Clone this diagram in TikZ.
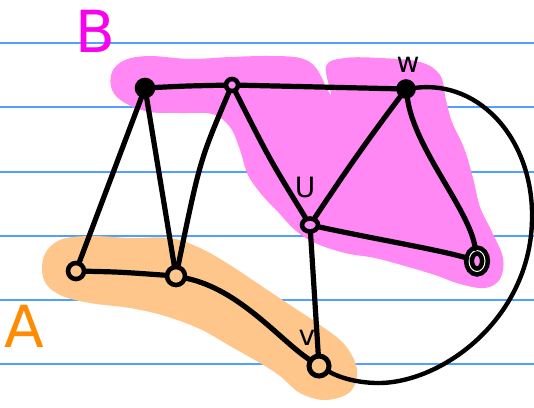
\documentclass[tikz,border=0pt]{standalone}
\usepackage{fontspec}
\setmainfont{DejaVu Sans}
\usetikzlibrary{shapes.geometric}
\definecolor{ruleblue}{RGB}{80,160,255}
\definecolor{pinkfill}{RGB}{255,136,245}
\definecolor{orangefill}{RGB}{255,198,140}
\definecolor{magentatext}{RGB}{250,0,240}
\definecolor{orangetext}{RGB}{255,140,0}
\begin{document}
\begin{tikzpicture}[x=1pt,y=-1pt,
  rule/.style={ruleblue,line width=1.6pt},
  edge/.style={line width=5.2pt,line cap=round,line join=round},
  vtx/.style={circle,draw,line width=4.6pt,minimum size=15pt,inner sep=0pt},
  vtxfill/.style={vtx,fill=black},
  lbl/.style={font=\fontsize{28}{30}\selectfont,inner sep=0pt}]
\useasboundingbox (0,0) rectangle (534,407);
\fill[white] (0,0) rectangle (534,407);
% ruled lines
\foreach \yy in {43,107,172,236,300,364} \draw[rule] (0,\yy) -- (534,\yy);
% blobs
\fill[pinkfill] plot[smooth cycle,tension=0.6] coordinates {
 (112,72) (125,60) (150,56) (190,59) (230,57) (270,56) (300,58) (316,68) (331,95)
 (326,66) (345,58) (380,58) (420,62) (440,75) (446,100) (452,122) (464,148) (473,178)
 (480,207) (492,232) (503,258) (500,279) (485,288) (460,284) (435,275) (405,266)
 (375,258) (345,253) (315,243) (295,230) (278,212) (262,195) (248,175) (240,150)
 (230,127) (212,114) (180,113) (150,112) (125,103) (112,90)};
\fill[orangefill] plot[smooth cycle,tension=0.6] coordinates {
 (44,256) (60,240) (90,236) (130,238) (170,238) (200,248) (230,265) (260,285)
 (290,305) (320,325) (345,345) (357,370) (350,392) (325,400) (300,393) (280,376)
 (260,363) (230,346) (200,329) (165,316) (130,308) (90,303) (60,295) (44,280)};
% labels
\node[magentatext,font=\fontsize{58}{60}\selectfont] (labB) at (95,31) {B};
\node[orangetext,font=\fontsize{58}{60}\selectfont] (labA) at (24,326) {A};
% vertices
\node[vtxfill,minimum size=16pt] (b1) at (145,88) {};
\node[vtx,minimum size=12pt] (b2) at (232,85) {};
\node[vtx,fill=black,minimum size=15pt] (w) at (406,89) {};
\node[vtx,ellipse,minimum width=16pt,minimum height=13pt] (u) at (310,225) {};
\node[vtx,ellipse,minimum width=16pt,minimum height=21pt,double,double distance=1pt] (r) at (477,261) {};
\node[vtx,minimum size=16pt] (a1) at (76,271) {};
\node[vtx,minimum size=18pt] (a2) at (176,276) {};
\node[vtx,minimum size=20pt,line width=5pt] (v) at (319,366) {};
\node[lbl] (lw) at (408,65) {w};
\node[lbl] (lu) at (305,187) {U};
\node[lbl] (lv) at (307,338) {v};
% edges
\draw[edge] (b1) .. controls (185,86) .. (b2);
\draw[edge] (b2) -- (w);
\draw[edge] (b1) -- (a1);
\draw[edge] (b1) -- (a2);
\draw[edge] (b2) .. controls (200,160) .. (a2);
\draw[edge] (b2) .. controls (270,160) .. (u);
\draw[edge] (u) .. controls (340,180) and (360,150) .. (w);
\draw[edge] (w) .. controls (415,150) and (470,210) .. (r);
\draw[edge] (u) .. controls (380,240) and (440,250) .. (r);
\draw[edge] (u) -- (v);
\draw[edge] (a1) .. controls (120,272) .. (a2);
\draw[edge] (a2) .. controls (240,290) and (280,340) .. (v);
\draw[edge,line width=4.4pt] (w) .. controls (480,80) and (534,140) .. (532,220)
  .. controls (530,320) and (440,385) .. (375,383) .. controls (350,382) and (335,375) .. (v);
\end{tikzpicture}
\end{document}
